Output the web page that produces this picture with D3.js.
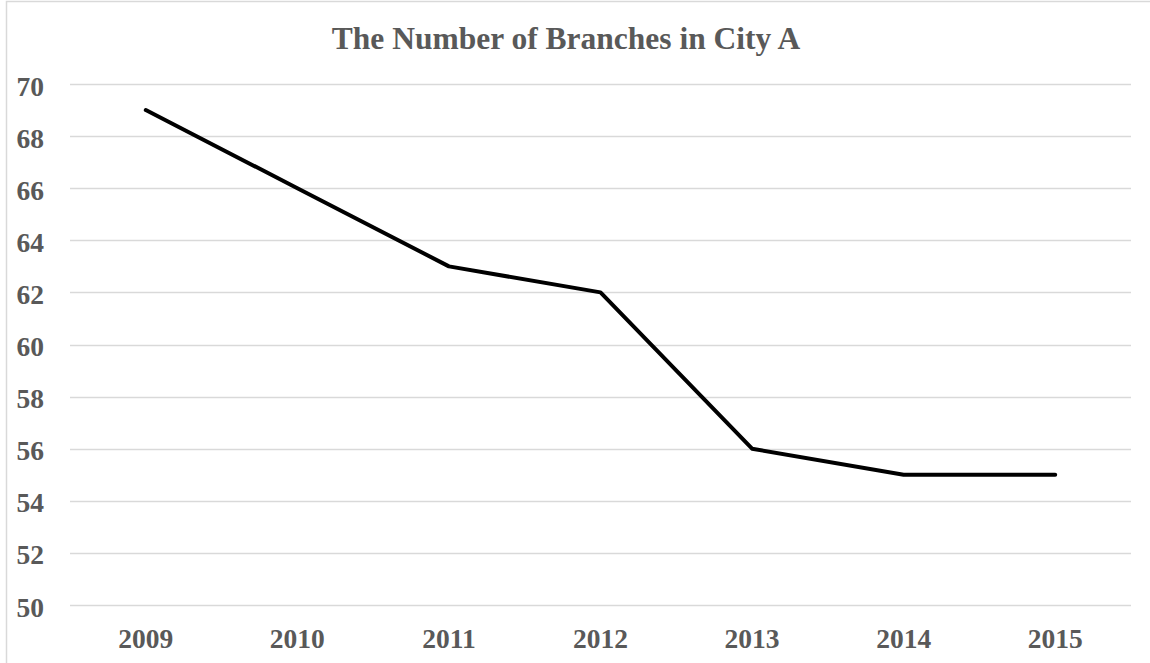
<!DOCTYPE html>
<html><head><meta charset="utf-8">
<script src="https://cdn.jsdelivr.net/npm/d3@7"></script>
<style>html,body{margin:0;padding:0;background:#fff;}svg{display:block;}</style>
</head><body>
<script>
const title = "The Number of Branches in City A";
const years = ["2009","2010","2011","2012","2013","2014","2015"];
const branches = [69, 66, 63, 62, 56, 55, 55];
const yTicks = [50,52,54,56,58,60,62,64,66,68,70];

const W = 1150, H = 663;
const FONT = '"Liberation Serif"';
const grey = "#595959";
const svg = d3.select("body").append("svg").attr("width", W).attr("height", H);
svg.append("rect").attr("x",0).attr("y",0).attr("width",W).attr("height",H).attr("fill","#fff");
svg.append("rect").attr("x",6.5).attr("y",1.5).attr("width",W+10).attr("height",H+10)
  .attr("fill","none").attr("stroke","#d9d9d9").attr("stroke-width",1.5);

const x = d3.scaleBand().domain(years).range([70,1131]);
const y = d3.scaleLinear().domain([50,70]).range([605,84]);

svg.append("g").selectAll("line").data(yTicks).join("line")
  .attr("x1",70).attr("x2",1131)
  .attr("y1",d=>Math.round(y(d))+0.5).attr("y2",d=>Math.round(y(d))+0.5)
  .attr("stroke","#d9d9d9").attr("stroke-width",1.3);

function styleText(sel, size){
  sel.style("font-family",FONT).style("font-weight","bold").style("font-size",size+"px").attr("fill",grey);
}

const yAxis = d3.axisLeft(y).tickValues(yTicks).tickSize(0).tickPadding(0);
const gy = svg.append("g").attr("transform","translate(44,0)").call(yAxis);
gy.select(".domain").remove();
gy.selectAll("text").call(styleText,27.5).attr("dy","0.4em");

const xAxis = d3.axisBottom(x).tickSize(0).tickPadding(0);
const gx = svg.append("g").attr("transform","translate(0,648)").call(xAxis);
gx.select(".domain").remove();
gx.selectAll("text").call(styleText,27.5).attr("dy","0");

const line = d3.line().x((d,i)=>x(years[i])+x.bandwidth()/2).y(d=>y(d));
svg.append("path").datum(branches).attr("d",line)
  .attr("fill","none").attr("stroke","#000").attr("stroke-width",4)
  .attr("stroke-linejoin","round").attr("stroke-linecap","round");

svg.append("text").attr("x",566).attr("y",49).attr("text-anchor","middle")
  .call(styleText,31.5).text(title);
</script>
</body></html>
